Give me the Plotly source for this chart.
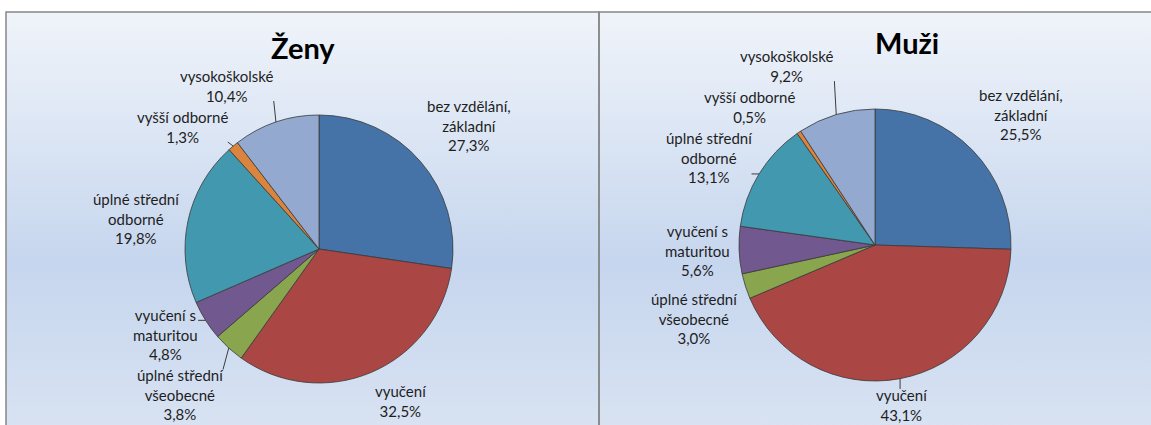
import base64
import math
import plotly.graph_objects as go

# ---- data ----
categories = [
    "bez vzdělání,<br>základní",
    "vyučení",
    "úplné střední<br>všeobecné",
    "vyučení s<br>maturitou",
    "úplné střední<br>odborné",
    "vyšší odborné",
    "vysokoškolské",
]
zeny_values = [27.3, 32.5, 3.8, 4.8, 19.8, 1.3, 10.4]
muzi_values = [25.5, 43.1, 3.0, 5.6, 13.1, 0.5, 9.2]
panel_titles = ["Ženy", "Muži"]

slice_colors = ["#4572A7", "#AA4643", "#89A54E", "#71588F", "#4198AF", "#DB843D", "#93A9CF"]
FONT = "Lato, Carlito, Calibri, 'Liberation Sans', sans-serif"
LABEL_SIZE = 15
LINE_H = LABEL_SIZE * 1.3
LABEL_GAP = 10  # px between pie edge and its labels
PAD = 2

W, H = 1151, 425

svg = (
    '<svg xmlns="http://www.w3.org/2000/svg" width="100" height="100" preserveAspectRatio="none">'
    '<defs><linearGradient id="g" x1="0" y1="0" x2="0" y2="1">'
    '<stop offset="0" stop-color="#F0F4FA"/>'
    '<stop offset="0.55" stop-color="#C6D6EE"/>'
    '<stop offset="1" stop-color="#DCE5F3"/>'
    '</linearGradient></defs>'
    '<rect width="100" height="100" fill="url(#g)"/></svg>'
)
bg_src = "data:image/svg+xml;base64," + base64.b64encode(svg.encode()).decode()


def char_w(ch):
    if ch in "iílj,.;:! ":
        return 3.6
    if ch in "t":
        return 4.6
    if ch in "rřf":
        return 5.2
    if ch in "sšzžcč":
        return 6.2
    if ch in "mw":
        return 11.5
    if ch == "%":
        return 11.0
    if ch.isdigit():
        return 8.2
    return 7.4


def text_w(s):
    return sum(char_w(ch) for ch in s)


def layout_labels(values, cx, cy, r):
    total = sum(values)
    cum = 0.0
    labs = []
    for v, cat in zip(values, categories):
        th = 2 * math.pi * (cum + v / 2) / total
        cum += v
        s, c = math.sin(th), math.cos(th)
        lines = cat.split("<br>") + [("%.1f" % v).replace(".", ",") + "%"]
        w = max(text_w(t) for t in lines) + 4
        h = len(lines) * LINE_H
        px, py = cx + (r + LABEL_GAP) * s, cy - (r + LABEL_GAP) * c
        x0 = px if s > 0.25 else (px - w if s < -0.25 else px - w / 2)
        y0 = py - h if c > 0.25 else (py if c < -0.25 else py - h / 2)
        labs.append(dict(s=s, c=c, x0=x0, y0=y0, y0o=y0, w=w, h=h, text="<br>".join(lines)))
    n = len(labs)
    for _ in range(300):
        changed = False
        for i in range(n):
            for j in range(i + 1, n):
                a, b = labs[i], labs[j]
                if a["x0"] < b["x0"] + b["w"] and b["x0"] < a["x0"] + a["w"]:
                    if a["y0"] + a["h"] / 2 <= b["y0"] + b["h"] / 2:
                        up, lo = a, b
                    else:
                        up, lo = b, a
                    ov = up["y0"] + up["h"] + PAD - lo["y0"]
                    if ov > 0.01:
                        up["y0"] -= ov / 2
                        lo["y0"] += ov / 2
                        changed = True
        for L in labs:
            L["y0"] = min(max(L["y0"], 14), H - 1 - L["h"])
        if not changed:
            break
    return labs


fig = go.Figure()

pies = [
    dict(cx=319, cy=249, r=134),
    dict(cx=875, cy=245, r=136),
]

annotations = []
shapes = []
for vals, p in zip([zeny_values, muzi_values], pies):
    cx, cy, r = p["cx"], p["cy"], p["r"]
    fig.add_trace(go.Pie(
        labels=categories,
        values=vals,
        sort=False,
        direction="clockwise",
        rotation=0,
        domain=dict(x=[(cx - r) / W, (cx + r) / W], y=[(H - cy - r) / H, (H - cy + r) / H]),
        marker=dict(colors=slice_colors, line=dict(color="#3a3a3a", width=0.8)),
        textinfo="none",
        showlegend=False,
        hoverinfo="label+value",
    ))
    for L in layout_labels(vals, cx, cy, r):
        xc = L["x0"] + L["w"] / 2
        yc = L["y0"] + L["h"] / 2
        annotations.append(dict(text=L["text"], x=xc / W, y=1 - yc / H, xref="paper", yref="paper",
                                xanchor="center", yanchor="middle", align="center", showarrow=False,
                                font=dict(family=FONT, size=LABEL_SIZE, color="#1e1e1e")))
        if abs(L["y0"] - L["y0o"]) > 3:
            ex, ey = cx + r * L["s"], cy - r * L["c"]
            qx = min(max(ex, L["x0"] - 1), L["x0"] + L["w"] + 1)
            qy = min(max(ey, L["y0"] + 4), L["y0"] + L["h"] - 4)
            shapes.append(dict(type="line", xref="paper", yref="paper",
                               x0=ex / W, y0=1 - ey / H, x1=qx / W, y1=1 - qy / H,
                               line=dict(color="#3c3c3c", width=1), layer="above"))

panels = [(6 / W, 599 / W), (599 / W, 1.05)]
top = (H - 12) / H
images = []
for x0, x1 in panels:
    images.append(dict(source=bg_src, xref="paper", yref="paper", x=x0, y=top,
                       sizex=x1 - x0, sizey=top + 0.1, sizing="stretch",
                       xanchor="left", yanchor="top", layer="below"))
    shapes.append(dict(type="rect", xref="paper", yref="paper", x0=x0, x1=x1,
                       y0=-0.3, y1=top, line=dict(color="#878787", width=1.5),
                       fillcolor="rgba(0,0,0,0)", layer="above"))

annotations += [
    dict(text="<b>%s</b>" % panel_titles[0], x=303 / W, y=(H - 47) / H, xref="paper", yref="paper",
         xanchor="center", yanchor="middle",
         showarrow=False, font=dict(family=FONT, size=29, color="#000000")),
    dict(text="<b>%s</b>" % panel_titles[1], x=907 / W, y=(H - 42) / H, xref="paper", yref="paper",
         xanchor="center", yanchor="middle",
         showarrow=False, font=dict(family=FONT, size=29, color="#000000")),
]

fig.update_layout(
    width=W, height=H,
    margin=dict(l=0, r=0, t=0, b=0),
    paper_bgcolor="#FFFFFF",
    plot_bgcolor="#FFFFFF",
    images=images,
    shapes=shapes,
    annotations=annotations,
    font=dict(family=FONT),
)

fig.write_html("out.html", config={"displayModeBar": False},
               post_script="document.body.style.margin='0';")
